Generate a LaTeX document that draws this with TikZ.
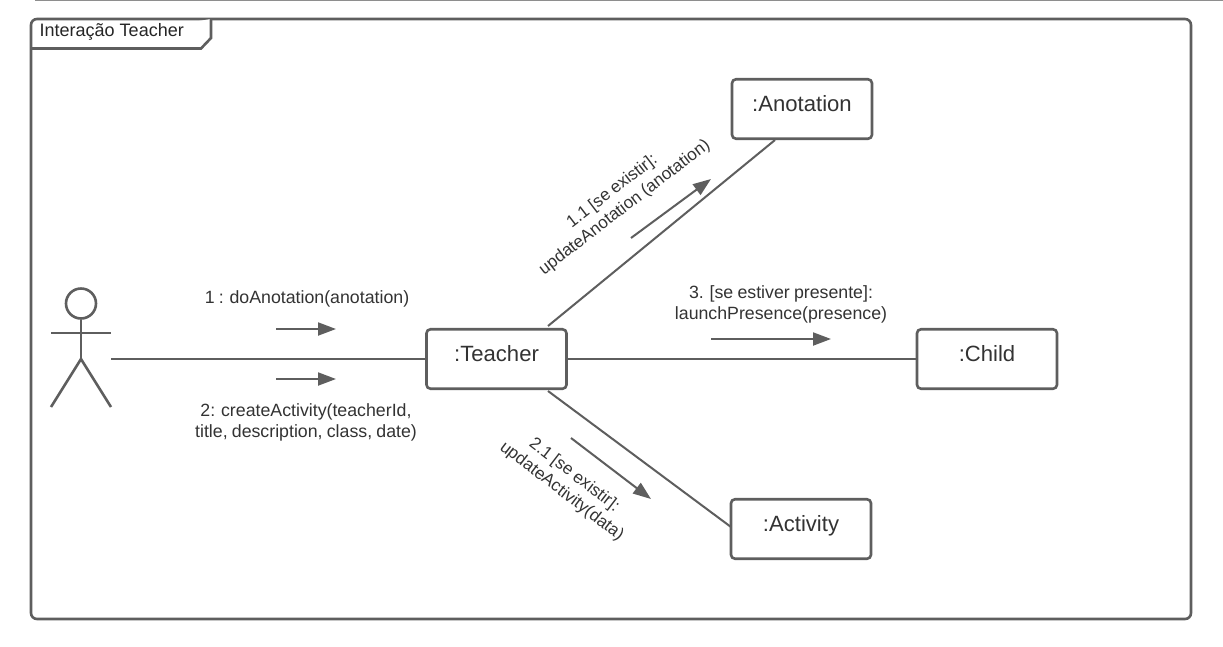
\documentclass[tikz,border=0pt]{standalone}
\usepackage{fontspec}
\setmainfont{Liberation Sans}
\newfontfamily\labelfamily[WordSpace=0.85]{Liberation Sans}
\usetikzlibrary{arrows.meta}
\definecolor{ln}{HTML}{5E5E5E}
\definecolor{tx}{HTML}{333333}
\newcommand{\objtext}[1]{\raisebox{-2.5pt}[0pt][0pt]{#1}}
\tikzset{
  obj/.style={draw=ln,line width=2.6pt,rounded corners=4pt,minimum width=140pt,minimum height=59.5pt,inner sep=0pt,text=tx,font=\fontsize{22.1}{25}\selectfont,fill=white},
  lnk/.style={draw=ln,line width=2pt},
  msg/.style={draw=ln,line width=2pt,-{Triangle[length=18pt,width=13pt,fill=ln]}},
  lab/.style={text=tx,font=\labelfamily\fontsize{17.75}{21}\selectfont,align=center,inner sep=0pt},
  rlab/.style={text=tx,font=\labelfamily\fontsize{17.1}{20.5}\selectfont,align=center,inner sep=0pt},
}
\begin{document}
\begin{tikzpicture}[x=1pt,y=-1pt]
\useasboundingbox (0,0) rectangle (1223,646);
\fill[white] (0,0) rectangle (1223,646);
\coordinate (ruleL) at (35,0.5);
\coordinate (ruleR) at (1223,0.5);
\draw[draw=ln!70,line width=1.5pt] (ruleL) -- (ruleR);
% frame
\draw[draw=ln,line width=2.6pt,rounded corners=6pt] (31,19) rectangle (1191,619);
\draw[draw=ln,line width=2.6pt,fill=white,rounded corners=0pt]
  (211,19) -- (211,38) -- (201,48.5) -- (31,48.5);
\node[anchor=west,text=black!85,font=\fontsize{18}{21}\selectfont,inner sep=0pt] (title) at (39.5,32) {Interação Teacher};
% objects
\node[obj] (teacher) at (496.5,359) {\objtext{:Teacher}};
\node[obj] (anot) at (802,109) {\objtext{:Anotation}};
\node[obj] (child) at (987,359) {\objtext{:Child}};
\node[obj] (act) at (801,529) {\objtext{:Activity}};
% actor
\node[draw=ln,line width=2.6pt,circle,minimum size=30pt,inner sep=0pt] (head) at (81,303.5) {};
\coordinate (hip) at (81,359);
\coordinate (armL) at (51,333);
\coordinate (armR) at (111,333);
\coordinate (footL) at (51,407);
\coordinate (footR) at (111,407);
\coordinate (actorEnd) at (111,359);
\draw[lnk,line width=2.6pt] (head.south) -- (hip);
\draw[lnk,line width=2.6pt] (armL) -- (armR);
\draw[lnk,line width=2.6pt] (footL) -- (hip) -- (footR);
% connectors
\draw[lnk] (actorEnd) -- (teacher.west);
\draw[lnk] (teacher.east) -- (child.west);
\coordinate (tA) at (548,326);
\coordinate (aT) at (775,140);
\coordinate (tB) at (548,391);
\coordinate (bT) at (731,527);
\draw[lnk] (tA) -- (aT);
\draw[lnk] (tB) -- (bT);
% message arrows
\coordinate (m1a) at (276,329); \coordinate (m1b) at (336,329);
\coordinate (m2a) at (276,379); \coordinate (m2b) at (336,379);
\coordinate (m3a) at (711,339); \coordinate (m3b) at (831,339);
\coordinate (m4a) at (631,238); \coordinate (m4b) at (711,179);
\coordinate (m5a) at (571,438); \coordinate (m5b) at (651,499);
\draw[msg] (m1a) -- (m1b);
\draw[msg] (m2a) -- (m2b);
\draw[msg] (m3a) -- (m3b);
\draw[msg] (m4a) -- (m4b);
\draw[msg] (m5a) -- (m5b);
% labels
\node[lab] (l1) at (307,299) {1 : doAnotation(anotation)};
\node[lab] (l2) at (306,422.5) {2: createActivity(teacherId,\\title, description, class, date)};
\node[lab] (l3) at (781,304) {3. [se estiver presente]:\\launchPresence(presence)};
\node[rlab,rotate=37.5] (l5) at (618.5,199.5) {1.1 [se existir]:\\updateAnotation (anotation)};
\node[rlab,rotate=-37.5] (l6) at (568,483.5) {2.1 [se existir]:\\updateActivity(data)};
\end{tikzpicture}
\end{document}
